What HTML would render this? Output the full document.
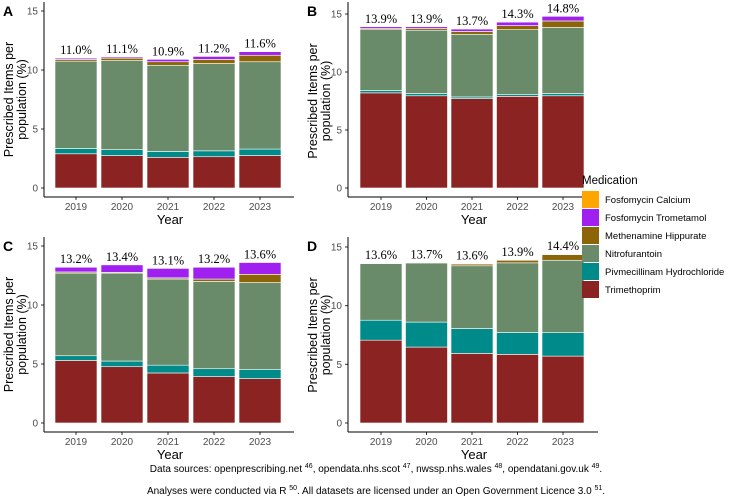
<!DOCTYPE html>
<html><head><meta charset="utf-8"><style>
body{margin:0;background:#fff;}
svg{display:block;font-family:"Liberation Sans",sans-serif;}
.cap{position:absolute;left:0;width:752px;text-align:center;font-family:'Liberation Sans',sans-serif;font-size:10px;line-height:12px;color:#000}
.cap sup{font-size:7px;vertical-align:0;position:relative;top:-4px}
</style></head><body>
<svg id="chart" width="752" height="504" viewBox="0 0 752 504"></svg>
<script>
const years = ["2019","2020","2021","2022","2023"];
const series = ["Trimethoprim","Pivmecillinam Hydrochloride","Nitrofurantoin","Methenamine Hippurate","Fosfomycin Trometamol","Fosfomycin Calcium"];
const colors = ["#8B2323","#008B8B","#698B69","#8B6508","#A020F0","#FFA500"];
const yTicks = [0,5,10,15];
// Panel A
const aTrim = [2.9,2.75,2.6,2.65,2.75];
const aPiv = [0.45,0.5,0.5,0.5,0.55];
const aNitro = [7.4,7.55,7.3,7.4,7.4];
const aMeth = [0.15,0.2,0.3,0.35,0.55];
const aFTrom = [0.1,0.1,0.2,0.25,0.3];
const aFCalc = [0,0,0,0,0];
const aTotals = ["11.0%","11.1%","10.9%","11.2%","11.6%"];
// Panel B
const bTrim = [8.2,7.95,7.7,7.9,7.95];
const bPiv = [0.2,0.2,0.15,0.15,0.2];
const bNitro = [5.25,5.45,5.4,5.6,5.7];
const bMeth = [0.1,0.15,0.25,0.35,0.55];
const bFTrom = [0.15,0.15,0.2,0.3,0.4];
const bFCalc = [0,0,0,0,0];
const bTotals = ["13.9%","13.9%","13.7%","14.3%","14.8%"];
// Panel C
const cTrim = [5.3,4.77,4.24,3.93,3.76];
const cPiv = [0.4,0.48,0.66,0.67,0.79];
const cNitro = [7.0,7.45,7.3,7.4,7.35];
const cMeth = [0.1,0.07,0.1,0.2,0.7];
const cFTrom = [0.4,0.63,0.8,1.0,1.0];
const cFCalc = [0,0,0,0,0];
const cTotals = ["13.2%","13.4%","13.1%","13.2%","13.6%"];
// Panel D
const dTrim = [7.06,6.47,5.93,5.85,5.7];
const dPiv = [1.7,2.13,2.12,1.86,2.0];
const dNitro = [4.83,5.04,5.35,5.94,6.17];
const dMeth = [0.01,0.04,0.15,0.22,0.48];
const dFTrom = [0.02,0.02,0.05,0.03,0.05];
const dFCalc = [0,0,0,0,0];
const dTotals = ["13.6%","13.7%","13.6%","13.9%","14.4%"];

const NS="http://www.w3.org/2000/svg";
const svg=document.getElementById('chart');
function mk(tag,attrs,parent){const e=document.createElementNS(NS,tag);for(const k in attrs)e.setAttribute(k,attrs[k]);(parent||svg).appendChild(e);return e;}

const panels=[
 {id:"a",letter:"A",ax:44,y0:188,y15:11,xl:197,c0:76,step:46,data:[aTrim,aPiv,aNitro,aMeth,aFTrom,aFCalc],tot:aTotals,top:0},
 {id:"b",letter:"B",ax:348,y0:188,y15:14,xl:197,c0:381,step:45.5,data:[bTrim,bPiv,bNitro,bMeth,bFTrom,bFCalc],tot:bTotals,top:0},
 {id:"c",letter:"C",ax:44,y0:423,y15:246,xl:432,c0:76,step:46,data:[cTrim,cPiv,cNitro,cMeth,cFTrom,cFCalc],tot:cTotals,top:235},
 {id:"d",letter:"D",ax:348,y0:423,y15:247,xl:432,c0:381,step:45.5,data:[dTrim,dPiv,dNitro,dMeth,dFTrom,dFCalc],tot:dTotals,top:235}
];
panels.forEach(p=>{
 const g=mk('g',{});
 
 
 const yS=v=>p.y0-(p.y0-p.y15)*v/15;
 const xS=i=>p.c0+p.step*i;
 const bw=42;
 years.forEach((yr,i)=>{
  let cum=0;
  series.forEach((s,k)=>{
   const v=p.data[k][i];
   if(v<=0){return;}
   const r=mk('rect',{x:xS(i)-bw/2,y:yS(cum+v),width:bw,height:yS(cum)-yS(cum+v),fill:colors[k],stroke:'#fff','stroke-width':0.6},g);
   
   
   cum+=v;
  });
  const t=mk('text',{x:xS(i),y:yS(cum)-4,'text-anchor':'middle','font-size':12.5,'font-family':'"Liberation Serif",serif',fill:'#000'},g);
  t.textContent=p.tot[i];
  
  
  const xt=mk('text',{x:xS(i),y:p.xl+13,'text-anchor':'middle','font-size':10,fill:'#4d4d4d'},g);
  xt.textContent=yr;
  
  
  mk('line',{x1:xS(i),x2:xS(i),y1:p.xl,y2:p.xl+3,stroke:'#333'},g);
 });
 yTicks.forEach(v=>{
  const t=mk('text',{x:p.ax-6,y:yS(v)+3.5,'text-anchor':'end','font-size':10,fill:'#4d4d4d'},g);
  t.textContent=v;
  
  
  mk('line',{x1:p.ax-3,x2:p.ax,y1:yS(v),y2:yS(v),stroke:'#333'},g);
 });
 mk('line',{x1:p.ax,x2:p.ax,y1:p.top+2,y2:p.xl,stroke:'#000','stroke-width':1},g);
 mk('line',{x1:p.ax,x2:p.ax+250,y1:p.xl,y2:p.xl,stroke:'#000','stroke-width':1},g);
 const yl=mk('text',{x:p.ax+126,y:p.xl+27,'text-anchor':'middle','font-size':13,fill:'#000'},g);
 yl.textContent='Year';
 
 
 const cy=(p.y0+p.y15)/2;
 const ya=mk('text',{transform:`translate(${p.ax-31},${cy}) rotate(-90)`,'text-anchor':'middle','font-size':12.5,fill:'#000'},g);
 ya.textContent='Prescribed Items per';
 
 
 const yb=mk('text',{transform:`translate(${p.ax-18},${cy}) rotate(-90)`,'text-anchor':'middle','font-size':12.5,fill:'#000'},g);
 yb.textContent='population (%)';
 
 
 const L=mk('text',{x:p.ax-41,y:p.top+16,'font-size':14,'font-weight':'bold',fill:'#000'},g);
 L.textContent=p.letter;
 
 
});
// legend
const lg=mk('g',{});


const lt=mk('text',{x:582,y:184,'font-size':11.5,fill:'#000'},lg);
lt.textContent='Medication';


const order=[5,4,3,2,1,0];
order.forEach((k,j)=>{
 const y=191+j*18;
 const r=mk('rect',{x:582,y:y,width:17,height:17,fill:colors[k]},lg);
 
 
 const t=mk('text',{x:605,y:y+12,'font-size':9.5,fill:'#000'},lg);
 t.textContent=series[k];
 
 
});
</script>
<div class="cap" style="top:464px">Data sources: openprescribing.net <sup>46</sup>, opendata.nhs.scot <sup>47</sup>, nwssp.nhs.wales <sup>48</sup>, opendatani.gov.uk <sup>49</sup>.</div>
<div class="cap" style="top:486px">Analyses were conducted via R <sup>50</sup>. All datasets are licensed under an Open Government Licence 3.0 <sup>51</sup>.</div>
</body></html>
